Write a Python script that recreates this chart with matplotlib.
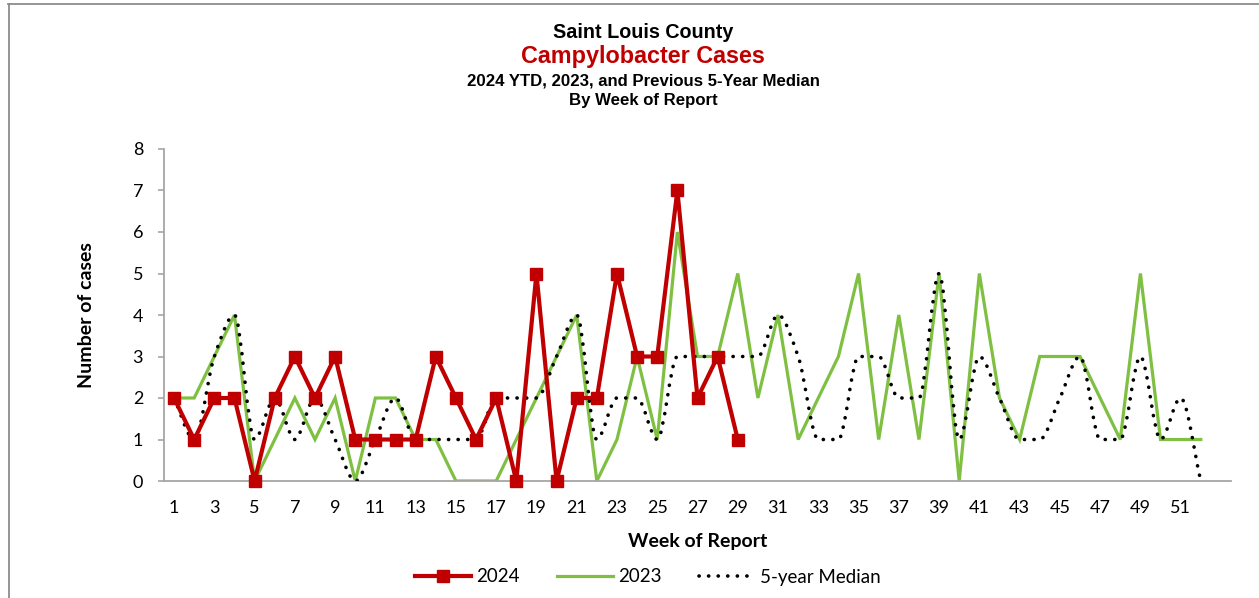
import matplotlib
matplotlib.use("Agg")
import matplotlib.pyplot as plt
import numpy as np
from matplotlib.path import Path
from matplotlib.patches import PathPatch
from matplotlib.lines import Line2D

# ---------------- data ----------------
weeks = list(range(1, 54))
cases_2024 = [2, 1, 2, 2, 0, 2, 3, 2, 3, 1, 1, 1, 1, 3, 2, 1, 2, 0, 5, 0,
              2, 2, 5, 3, 3, 7, 2, 3, 1]
cases_2023 = [2, 2, 3, 4, 0, 1, 2, 1, 2, 0, 2, 2, 1, 1, 0, 0, 0, 1, 2, 3,
              4, 0, 1, 3, 1, 6, 3, 3, 5, 2, 4, 1, 2, 3, 5, 1, 4, 1, 5, 0,
              5, 2, 1, 3, 3, 3, 2, 1, 5, 1, 1, 1]
median_5yr = [2, 1, 3, 4, 1, 2, 1, 2, 1, 0, 1, 2, 1, 1, 1, 1, 2, 2, 2, 3,
              4, 1, 2, 2, 1, 3, 3, 3, 3, 3, 4, 3, 1, 1, 3, 3, 2, 2, 5, 1,
              3, 2, 1, 1, 2, 3, 1, 1, 3, 1, 2, 0]
xticks = list(range(1, 52, 2))
xtick_labels = [str(w) for w in xticks]
yticks = list(range(0, 9))

title1 = "Saint Louis County"
title2 = "Campylobacter Cases"
title3 = "2024 YTD, 2023, and Previous 5-Year Median"
title4 = "By Week of Report"
xlabel = "Week of Report"
ylabel = "Number of cases"
series_names = ["2024", "2023", "5-year Median"]

RED = "#C00000"
GREEN = "#7FC043"
GRAY = "#A6A6A6"
TICKFONT = "Lato"
TITLEFONT = "Liberation Sans"

W, H = 1259, 598
fig = plt.figure(figsize=(W / 100, H / 100), dpi=100)

# outer frame lines (top and left)
fig.add_artist(Line2D([8 / W, 1.0], [1 - 4 / H, 1 - 4 / H], color="#8C8C8C", lw=1.3))
fig.add_artist(Line2D([8.5 / W, 8.5 / W], [0, 1 - 4 / H], color="#8C8C8C", lw=1.3))

left, right = 164 / W, 1231 / W
bottom, top = 1 - 481 / H, 1 - 149 / H
ax = fig.add_axes([left, bottom, right - left, top - bottom])

# 2023 line
x23 = weeks[:len(cases_2023)]
ax.plot(x23, cases_2023, color=GREEN, lw=2.3, solid_joinstyle="miter", zorder=2)

# 5-year median drawn as a smoothed line (monotone cubic Bezier through the points)
xm = np.array(weeks[:len(median_5yr)], dtype=float)
ym = np.array(median_5yr, dtype=float)
n = len(ym)
d = np.diff(ym)
m = np.zeros(n)
m[0], m[-1] = d[0], d[-1]
for k in range(1, n - 1):
    if d[k - 1] * d[k] > 0:
        m[k] = 2.0 / (1.0 / d[k - 1] + 1.0 / d[k])
    else:
        m[k] = 0.0
verts = [(xm[0], ym[0])]
codes = [Path.MOVETO]
for i in range(n - 1):
    h = xm[i + 1] - xm[i]
    verts += [(xm[i] + h / 3, ym[i] + m[i] * h / 3),
              (xm[i + 1] - h / 3, ym[i + 1] - m[i + 1] * h / 3),
              (xm[i + 1], ym[i + 1])]
    codes += [Path.CURVE4] * 3
patch = PathPatch(Path(verts, codes), fill=False, edgecolor="black", lw=2.6,
                  linestyle=(0, (0.05, 2.6)), capstyle="round", zorder=3,
                  transform=ax.transData)
ax.add_patch(patch)

# 2024 line
x24 = weeks[:len(cases_2024)]
ax.plot(x24, cases_2024, color=RED, lw=3.0, marker="s", markersize=8,
        markerfacecolor=RED, markeredgecolor=RED, zorder=4, clip_on=False)

ax.set_xlim(0.5, 53.5)
ax.set_ylim(0, 8)
ax.set_xticks(xticks)
ax.set_xticklabels(xtick_labels)
ax.set_yticks(yticks)
ax.set_yticklabels([str(v) for v in yticks])

for s in ["top", "right"]:
    ax.spines[s].set_visible(False)
for s in ["left", "bottom"]:
    ax.spines[s].set_color(GRAY)
    ax.spines[s].set_linewidth(1.3)
ax.tick_params(axis="x", length=0, pad=14, labelsize=13, colors="black")
ax.tick_params(axis="y", length=4, width=1.2, color=GRAY, direction="out",
               pad=11, labelsize=13, labelcolor="black")
for lab in ax.get_xticklabels() + ax.get_yticklabels():
    lab.set_fontfamily(TICKFONT)

ax.set_xlabel(xlabel, fontfamily=TICKFONT, fontweight="bold", fontsize=14, labelpad=12)
ax.set_ylabel(ylabel, fontfamily=TICKFONT, fontweight="bold", fontsize=14, labelpad=27)

# titles
cx = 643 / W
fig.text(cx, 1 - 33 / H, title1, ha="center", va="center", fontfamily=TITLEFONT,
         fontweight="bold", fontsize=14.2, color="black")
fig.text(cx, 1 - 57 / H, title2, ha="center", va="center", fontfamily=TITLEFONT,
         fontweight="bold", fontsize=16.8, color=RED)
fig.text(cx, 1 - 81 / H, title3, ha="center", va="center", fontfamily=TITLEFONT,
         fontweight="bold", fontsize=12.1, color="black")
fig.text(cx, 1 - 100 / H, title4, ha="center", va="center", fontfamily=TITLEFONT,
         fontweight="bold", fontsize=12.1, color="black")

# legend
handles = [
    Line2D([], [], color=RED, lw=3.0, marker="s", markersize=8),
    Line2D([], [], color=GREEN, lw=2.3),
    Line2D([], [], color="black", lw=2.6, linestyle=(0, (0.05, 2.6)),
           dash_capstyle="round"),
]
leg = fig.legend(handles, series_names, loc="center", bbox_to_anchor=(648 / W, 1 - 577 / H),
                 ncol=3, frameon=False, handlelength=3.0, columnspacing=2.0,
                 handletextpad=0.25, prop={"family": TICKFONT, "size": 13.5})

fig.savefig("out.png", dpi=100)
